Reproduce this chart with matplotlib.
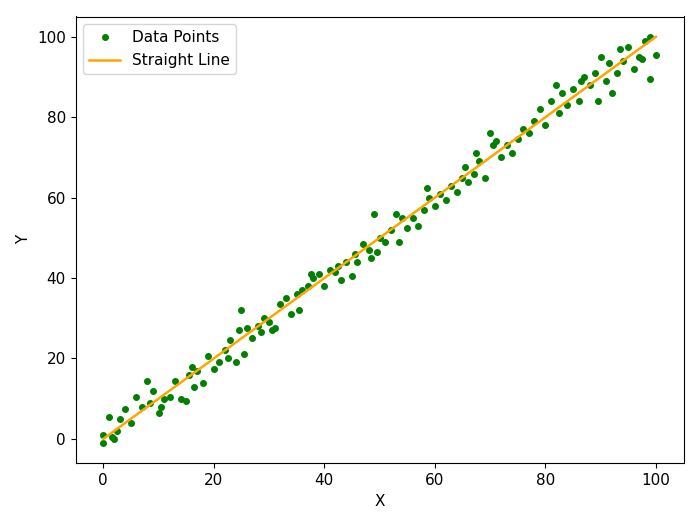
import matplotlib
matplotlib.use("Agg")
import matplotlib.pyplot as plt

plt.rcParams["font.size"] = 11

# points
x_pts = [0, 0, 1, 1.5, 2, 2.5, 3, 4, 5, 6, 7, 8, 8.5, 9, 10, 10.5, 11, 12, 13, 14,
         15, 15.5, 16, 16.5, 17, 18, 19, 20, 21, 22, 22.5, 23, 24, 24.5, 25, 25.5, 26, 27, 28, 28.5,
         29, 30, 30.5, 31, 32, 33, 34, 35, 35.5, 36, 37, 37.5, 38, 39, 40, 41, 42, 42.5, 43, 44,
         45, 45.5, 46, 47, 48, 48.5, 49, 49.5, 50, 51, 52, 53, 53.5, 54, 55, 56, 57, 58, 58.5, 59,
         60, 61, 62, 63, 64, 65, 65.5, 66, 67, 67.5, 68, 69, 70, 70.5, 71, 72, 73, 74, 75, 76,
         77, 78, 79, 80, 81, 82, 82.5, 83, 84, 85, 86, 86.5, 87, 88, 89, 89.5, 90, 91, 91.5, 92,
         93, 93.5, 94, 95, 96, 97, 97.5, 98, 99, 99, 100]
y_pts = [1, -1, 5.5, 0.5, 0, 2, 5, 7.5, 4, 10.5, 8, 14.5, 9, 12, 6.5, 8, 10, 10.5, 14.5, 10,
         9.5, 16, 18, 13, 17, 14, 20.5, 17.5, 19, 22, 20, 24.5, 19, 27, 32, 21, 27.5, 25, 28, 26.5,
         30, 29, 27, 27.5, 33.5, 35, 31, 36, 32, 37, 38, 41, 40, 41, 38, 42, 41.5, 43, 39.5, 44,
         40.5, 46, 44, 48.5, 47, 45, 56, 46.5, 50, 49, 52, 56, 49, 55, 52.5, 55, 53, 57, 62.5, 60,
         58, 61, 59.5, 63, 61.5, 65, 67.5, 64, 66, 71, 69, 65, 76, 73, 74, 70, 73, 71, 74.5, 77,
         76, 79, 82, 78, 84, 88, 81, 86, 83, 87, 84, 89, 90, 88, 91, 84, 95, 89, 93.5, 86,
         91, 97, 94, 97.5, 92, 95, 94.5, 99, 100, 89.5, 95.5]
line_x = [0, 100]
line_y = [0, 100]

fig, ax = plt.subplots(figsize=(7, 5.25), dpi=100)
ax.plot(x_pts, y_pts, "o", color="green", markersize=4, label="Data Points")
ax.plot(line_x, line_y, color="orange", linewidth=1.8, label="Straight Line")
ax.set_xlabel("X")
ax.set_ylabel("Y")
ax.legend(loc="upper left")
plt.tight_layout()
plt.savefig("out.png")
